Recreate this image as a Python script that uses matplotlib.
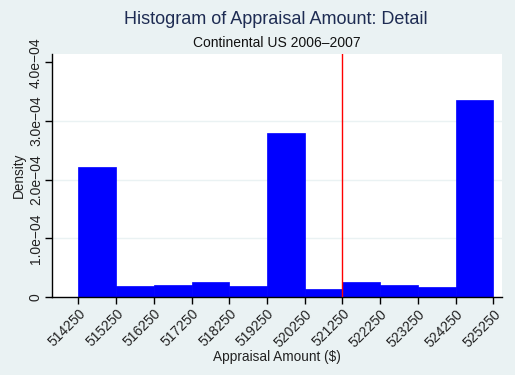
import numpy as np
import matplotlib
matplotlib.use("Agg")
import matplotlib.pyplot as plt

# bin edges and densities
bin_edges = [514250, 515250, 516250, 517250, 518250, 519250, 520250,
             521250, 522250, 523250, 524250, 525250]
density = [2.216e-4, 0.193e-4, 0.21e-4, 0.256e-4, 0.193e-4, 2.795e-4,
           0.136e-4, 0.256e-4, 0.205e-4, 0.17e-4, 3.358e-4]
ref_value = 521250

y_ticks = [0, 1e-4, 2e-4, 3e-4, 4e-4]
y_labels = ['0', '1.0e\u221204', '2.0e\u221204', '3.0e\u221204', '4.0e\u221204']
x_labels = [str(v) for v in bin_edges]

plt.rcParams['font.family'] = ['Liberation Sans', 'DejaVu Sans']
bg = '#eaf2f3'

fig = plt.figure(figsize=(5.15, 3.75), dpi=100, facecolor=bg)
ax = fig.add_axes([52 / 515, 78 / 375, 450 / 515, 243 / 375])
ax.set_facecolor('white')

lefts = np.array(bin_edges[:-1])
widths = np.diff(bin_edges)
ax.bar(lefts, density, width=widths, align='edge', color='#0000ff',
       edgecolor='#0000ff', linewidth=0.5, zorder=2)
ax.axvline(ref_value, color='red', linewidth=1, zorder=3)

for y in y_ticks[1:-1]:
    ax.axhline(y, color=bg, linewidth=1, zorder=1)

ax.set_xlim(513552, 525481)
ax.set_ylim(0, 4.142e-4)

ax.set_xticks(bin_edges)
ax.set_xticklabels(x_labels, rotation=45, ha='right', rotation_mode='anchor',
                   fontsize=10, color='#222222')
ax.set_yticks(y_ticks)
ax.set_yticklabels(y_labels, rotation=90, va='center', fontsize=10,
                   color='#222222')
ax.tick_params(axis='both', direction='out', length=5, width=1, color='black')
ax.tick_params(axis='x', pad=2)
ax.tick_params(axis='y', pad=1.5)

for side in ['top', 'right']:
    ax.spines[side].set_visible(False)
for side in ['left', 'bottom']:
    ax.spines[side].set_color('black')
    ax.spines[side].set_linewidth(1)

ax.set_xlabel('Appraisal Amount ($)', fontsize=9.8, color='#222222', labelpad=0)
ax.set_ylabel('Density', fontsize=9.8, color='#222222', labelpad=2)

fig.text(276 / 515, 1 - 20 / 375, 'Histogram of Appraisal Amount: Detail',
         ha='center', va='center', fontsize=13, color='#1e2c53')
fig.text(277 / 515, 1 - 43 / 375, 'Continental US 2006\u20132007',
         ha='center', va='center', fontsize=10, color='#111111')

fig.savefig('out.png', dpi=100, facecolor=bg)
